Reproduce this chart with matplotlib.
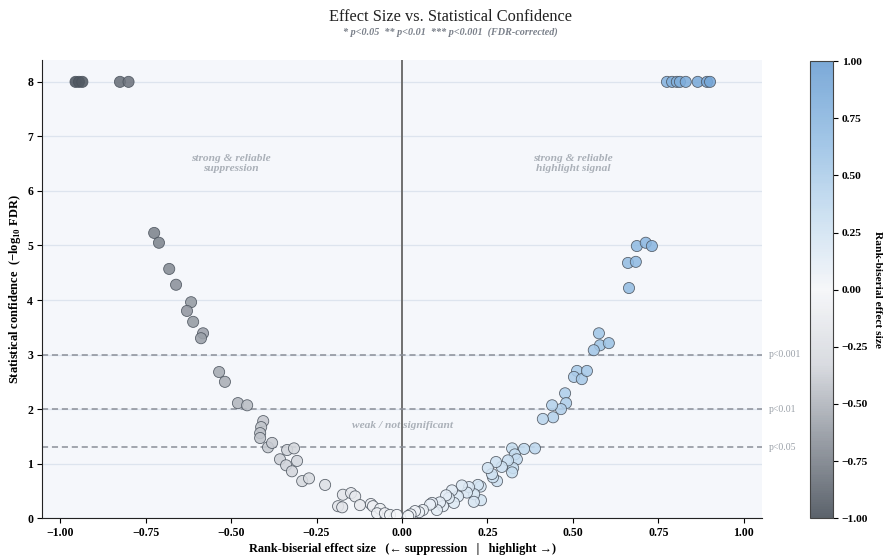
import matplotlib
matplotlib.use("Agg")
import matplotlib.pyplot as plt
import numpy as np
from matplotlib.colors import LinearSegmentedColormap, Normalize

plt.rcParams['font.family'] = ['Liberation Serif', 'DejaVu Serif']
plt.rcParams['mathtext.fontset'] = 'custom'
plt.rcParams['mathtext.rm'] = 'Liberation Serif'
plt.rcParams['mathtext.bf'] = 'Liberation Serif:bold'

# effect sizes (rank-biserial) and -log10 FDR
neg_x = [-0.955, -0.945, -0.935, -0.825, -0.800,
         -0.725, -0.711, -0.681, -0.661, -0.617, -0.629, -0.611, -0.582, -0.588,
         -0.535, -0.518, -0.480, -0.453,
         -0.406, -0.412, -0.415, -0.415, -0.392, -0.380, -0.357, -0.336, -0.316,
         -0.307, -0.339, -0.322, -0.292, -0.272, -0.225,
         -0.173, -0.149, -0.137, -0.187, -0.175, -0.123, -0.091, -0.085, -0.064,
         -0.073, -0.050, -0.035, -0.015]
neg_y = [8.0, 8.0, 8.0, 8.0, 8.0,
         5.23, 5.05, 4.57, 4.28, 3.96, 3.80, 3.60, 3.39, 3.30,
         2.68, 2.50, 2.11, 2.07,
         1.78, 1.67, 1.56, 1.47, 1.30, 1.38, 1.08, 1.25, 1.28,
         1.05, 0.97, 0.86, 0.68, 0.73, 0.61,
         0.43, 0.46, 0.40, 0.22, 0.20, 0.24, 0.26, 0.22, 0.17,
         0.09, 0.09, 0.06, 0.06]

pos_x = [0.775, 0.790, 0.804, 0.813, 0.830, 0.865, 0.892, 0.901,
         0.687, 0.713, 0.731, 0.661, 0.684, 0.664,
         0.576, 0.579, 0.605, 0.561, 0.512, 0.503, 0.526, 0.541,
         0.477, 0.480, 0.465, 0.439, 0.442, 0.412,
         0.389, 0.357, 0.322, 0.330, 0.336, 0.325, 0.322,
         0.310, 0.292, 0.278, 0.266, 0.275, 0.263, 0.251,
         0.230, 0.231, 0.222, 0.211, 0.210, 0.196, 0.190, 0.175, 0.164,
         0.152, 0.146, 0.137, 0.129, 0.120, 0.111, 0.102, 0.088, 0.082,
         0.061, 0.050, 0.038, 0.025, 0.018]
pos_y = [8.0, 8.0, 8.0, 8.0, 8.0, 8.0, 8.0, 8.0,
         4.99, 5.05, 4.99, 4.68, 4.70, 4.22,
         3.39, 3.17, 3.21, 3.08, 2.70, 2.59, 2.55, 2.70,
         2.29, 2.11, 2.00, 2.07, 1.85, 1.82,
         1.28, 1.27, 1.28, 1.17, 1.08, 0.92, 0.84,
         1.06, 0.94, 0.68, 0.75, 1.03, 0.81, 0.92,
         0.58, 0.33, 0.61, 0.44, 0.30, 0.57, 0.47, 0.60, 0.40,
         0.28, 0.51, 0.37, 0.42, 0.22, 0.29, 0.15, 0.28, 0.25,
         0.15, 0.11, 0.13, 0.07, 0.04]

effect = np.array(neg_x + pos_x)
conf = np.array(neg_y + pos_y)

thresholds = [1.301, 2.0, 3.0]
threshold_labels = ["p<0.05", "p<0.01", "p<0.001"]

cmap = LinearSegmentedColormap.from_list(
    "div", ["#454d57", "#8a9099", "#d3d6dc", "#f5f6f9", "#c6ddf0", "#93bde3", "#6a9ed3"])
norm = Normalize(-1, 1)

fig = plt.figure(figsize=(8.85, 5.56), dpi=100)
ax = fig.add_axes([0.0475, 0.068, 0.8135, 0.824])
ax.set_facecolor("#f5f7fb")

ax.set_xlim(-1.053, 1.053)
ax.set_ylim(0, 8.4)
ax.set_yticks(range(0, 9))
ax.set_xticks([-1.0, -0.75, -0.5, -0.25, 0.0, 0.25, 0.5, 0.75, 1.0])
ax.set_xticklabels(["−1.00", "−0.75", "−0.50", "−0.25", "0.00", "0.25", "0.50", "0.75", "1.00"])
ax.grid(axis='y', color="#dde4ee", linewidth=0.9)
ax.set_axisbelow(True)
for s in ["top", "right"]:
    ax.spines[s].set_visible(False)
ax.spines["left"].set_color("#222222")
ax.spines["bottom"].set_color("#222222")
ax.tick_params(length=3.5, pad=3)

ax.axvline(0, color="#707070", linewidth=1.4, zorder=1)
for t, lab in zip(thresholds, threshold_labels):
    ax.axhline(t, color="#8a8f98", linestyle=(0, (4, 2.5)), linewidth=1.1, zorder=1)
    ax.text(1.072, t, lab, fontsize=7, color="#9aa0a8", va="center", ha="left",
            transform=ax.transData, clip_on=False)

sc = ax.scatter(effect, conf, c=effect, cmap=cmap, norm=norm, s=64,
                edgecolors="#4a525c", linewidths=0.6, alpha=0.88, zorder=3)

ann_kw = dict(fontsize=8.2, color="#aab0b8", style="italic", fontweight="bold",
              ha="center", va="center")
ax.text(-0.5, 6.5, "strong & reliable\nsuppression", **ann_kw)
ax.text(0.5, 6.5, "strong & reliable\nhighlight signal", **ann_kw)
ax.text(0.0, 1.7, "weak / not significant", **ann_kw)

for lab in ax.get_xticklabels() + ax.get_yticklabels():
    lab.set_fontweight("bold")
    lab.set_fontsize(8.5)

ax.set_xlabel("Rank-biserial effect size   (← suppression   |   highlight →)",
              fontsize=8.9, fontweight="bold", labelpad=3)
ax.set_ylabel("Statistical confidence  (−log$_{\\mathbf{10}}$ FDR)",
              fontsize=9, fontweight="bold", labelpad=3)

fig.text(0.509, 0.970, "Effect Size vs. Statistical Confidence", ha="center", va="center",
         fontsize=11.8, color="#222222")
fig.text(0.509, 0.942, "* p<0.05  ** p<0.01  *** p<0.001  (FDR-corrected)", ha="center",
         va="center", fontsize=7.3, color="#7a808a", style="italic", fontweight="bold")

cax = fig.add_axes([0.915, 0.068, 0.026, 0.822])
cb = fig.colorbar(sc, cax=cax)
cb.set_alpha(1)
cb.set_ticks([-1, -0.75, -0.5, -0.25, 0, 0.25, 0.5, 0.75, 1.0])
cb.set_ticklabels(["−1.00", "−0.75", "−0.50", "−0.25", "0.00", "0.25", "0.50", "0.75", "1.00"])
cax.tick_params(length=3.5, pad=3)
for lab in cax.get_yticklabels():
    lab.set_fontweight("bold")
    lab.set_fontsize(8.2)
cb.outline.set_edgecolor("#444444")
cb.set_label("Rank-biserial effect size", rotation=270, fontsize=8.2, fontweight="bold",
             labelpad=10)

fig.savefig("out.png", dpi=100)
